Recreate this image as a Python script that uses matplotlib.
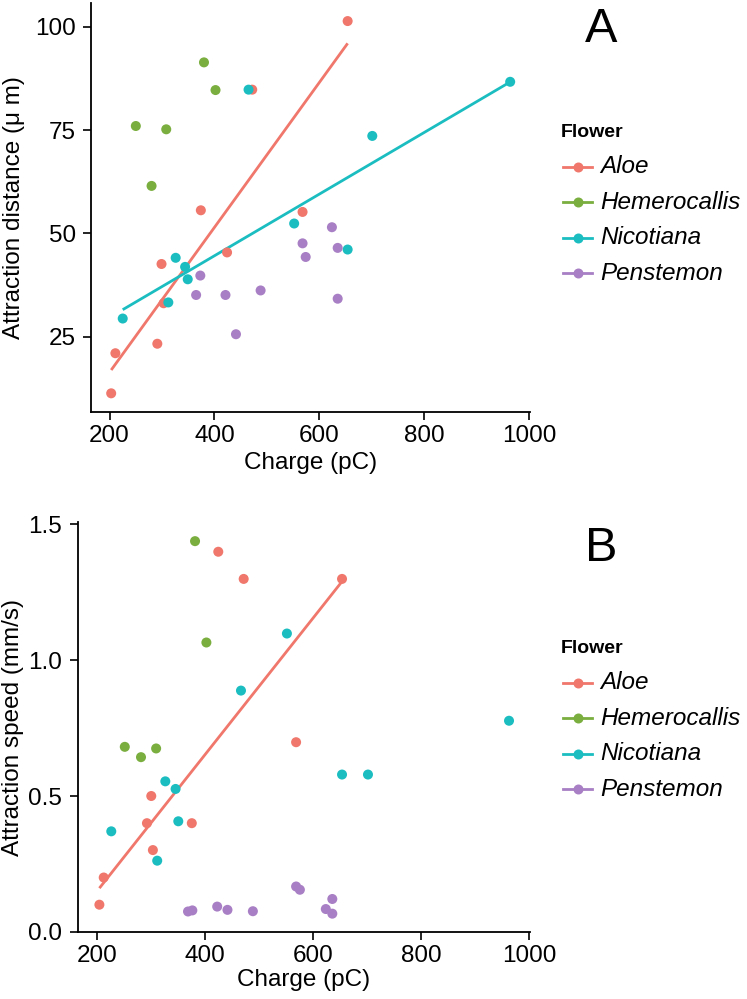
import matplotlib
matplotlib.use("Agg")
import matplotlib.pyplot as plt
from matplotlib.lines import Line2D
import numpy as np

plt.rcParams['font.family'] = ['Liberation Sans', 'DejaVu Sans']

flowers = ["Aloe", "Hemerocallis", "Nicotiana", "Penstemon"]
colors = {"Aloe": "#F0776B", "Hemerocallis": "#7AAE3E", "Nicotiana": "#1BBDC1", "Penstemon": "#A87FC4"}

# Panel A: attraction distance (µm) vs charge (pC)
charge_A = {
    "Aloe": [203, 211, 291, 299, 303, 374, 424, 472, 568, 654],
    "Hemerocallis": [250, 280, 308, 380, 402],
    "Nicotiana": [225, 312, 326, 344, 349, 465, 552, 654, 701, 964],
    "Penstemon": [365, 373, 421, 441, 488, 568, 574, 624, 635, 635],
}
distance_A = {
    "Aloe": [11.3, 21.0, 23.3, 42.6, 33.1, 55.6, 45.4, 84.8, 55.2, 101.4],
    "Hemerocallis": [76.0, 61.5, 75.2, 91.4, 84.7],
    "Nicotiana": [29.4, 33.3, 44.1, 41.9, 38.9, 84.8, 52.4, 46.1, 73.6, 86.7],
    "Penstemon": [35.1, 39.8, 35.1, 25.6, 36.2, 47.6, 44.3, 51.5, 46.5, 34.2],
}
# Panel B: attraction speed (mm/s) vs charge (pC)
charge_B = {
    "Aloe": [205, 213, 293, 301, 304, 376, 425, 472, 569, 654],
    "Hemerocallis": [252, 282, 310, 382, 403],
    "Nicotiana": [227, 312, 327, 346, 351, 467, 552, 654, 702, 963],
    "Penstemon": [369, 377, 423, 442, 489, 569, 576, 624, 636, 636],
}
speed_B = {
    "Aloe": [0.100, 0.200, 0.400, 0.500, 0.301, 0.400, 1.399, 1.299, 0.698, 1.299],
    "Hemerocallis": [0.681, 0.643, 0.675, 1.438, 1.065],
    "Nicotiana": [0.370, 0.262, 0.554, 0.526, 0.407, 0.888, 1.098, 0.579, 0.579, 0.777],
    "Penstemon": [0.075, 0.079, 0.093, 0.081, 0.076, 0.167, 0.155, 0.084, 0.121, 0.067],
}
# fitted regression lines (intercept, slope)
fits_A = {"Aloe": (-18.65, 0.17531), "Nicotiana": (14.76, 0.07459)}
fits_B = {"Aloe": (-0.3545, 0.002514)}

xticks = [200, 400, 600, 800, 1000]
yticks_A = [25, 50, 75, 100]
yticks_B = [0.0, 0.5, 1.0, 1.5]
yticklabels_B = ["0.0", "0.5", "1.0", "1.5"]

W, H = 747, 999
fig = plt.figure(figsize=(W / 100, H / 100), dpi=100)

def fx(px):
    return px / W

def fy(py):
    return 1 - py / H

axA = fig.add_axes([fx(91), fy(411.7), fx(530.1 - 91), (411.7 - 3.3) / H])
axB = fig.add_axes([fx(77.5), fy(932.3), fx(530.1 - 77.5), (932.3 - 522.4) / H])

def style(ax):
    for s in ["top", "right"]:
        ax.spines[s].set_visible(False)
    for s in ["left", "bottom"]:
        ax.spines[s].set_linewidth(1.3)
        ax.spines[s].set_color("black")
    ax.tick_params(direction="out", length=6, width=1.2, labelsize=17.5, colors="black")
    ax.tick_params(axis="x", pad=3.5)
    ax.tick_params(axis="y", pad=5.0)

def draw(ax, xs, ys, fits):
    for f in flowers:
        ax.scatter(xs[f], ys[f], s=52, color=colors[f], edgecolors="none", zorder=3)
    for f, (b0, b1) in fits.items():
        xr = np.array([min(xs[f]), max(xs[f])])
        ax.plot(xr, b0 + b1 * xr, color=colors[f], lw=2.0, zorder=2, solid_capstyle="butt")

draw(axA, charge_A, distance_A, fits_A)
draw(axB, charge_B, speed_B, fits_B)
for ax in (axA, axB):
    style(ax)
    ax.set_xlim(164.5, 1002)
    ax.set_xticks(xticks)
    ax.set_xticklabels([str(t) for t in xticks])

axA.set_ylim(6.85, 105.7)
axA.set_yticks(yticks_A)
axA.set_yticklabels([str(t) for t in yticks_A])
axB.set_ylim(-0.0016, 1.507)
axB.set_yticks(yticks_B)
axB.set_yticklabels(yticklabels_B)

axA.set_xlabel("Charge (pC)", fontsize=17.5)
axA.set_ylabel("Attraction distance (\u03bc m)", fontsize=17.5)
axB.set_xlabel("Charge (pC)", fontsize=17.5)
axB.set_ylabel("Attraction speed (mm/s)", fontsize=17.5)
for ax, xl_y, yl_x in ((axA, 463.3, 13.5), (axB, 980.0, 12.9)):
    pos = ax.get_position()
    ax.xaxis.label.set_va("center")
    ax.yaxis.label.set_va("center")
    y0 = pos.y0 * H
    hpx = pos.height * H
    x0 = pos.x0 * W
    wpx = pos.width * W
    ax.xaxis.set_label_coords(0.5, ((H - xl_y) - y0) / hpx)
    ax.yaxis.set_label_coords((yl_x - x0) / wpx, 0.5)

fig.text(fx(601), fy(29.7), "A", fontsize=35, ha="center", va="center")
fig.text(fx(601), fy(548.8), "B", fontsize=35, ha="center", va="center")

def legend(title_y):
    fig.text(fx(560.7), fy(title_y), "Flower", fontsize=14, fontweight="bold",
             ha="left", va="center")
    for i, f in enumerate(flowers):
        yy = title_y + 34.6 + 35.5 * i
        fig.add_artist(Line2D([fx(563.3), fx(592.3)], [fy(yy), fy(yy)], color=colors[f],
                              lw=2.0, transform=fig.transFigure))
        fig.add_artist(Line2D([fx(577.8)], [fy(yy)], color=colors[f], marker="o",
                              markersize=7.2, markeredgewidth=0, transform=fig.transFigure))
        fig.text(fx(600), fy(yy), f, fontsize=17.5, style="italic", ha="left", va="center")

legend(132.3)
legend(648.3)

fig.savefig("out.png", dpi=100)
